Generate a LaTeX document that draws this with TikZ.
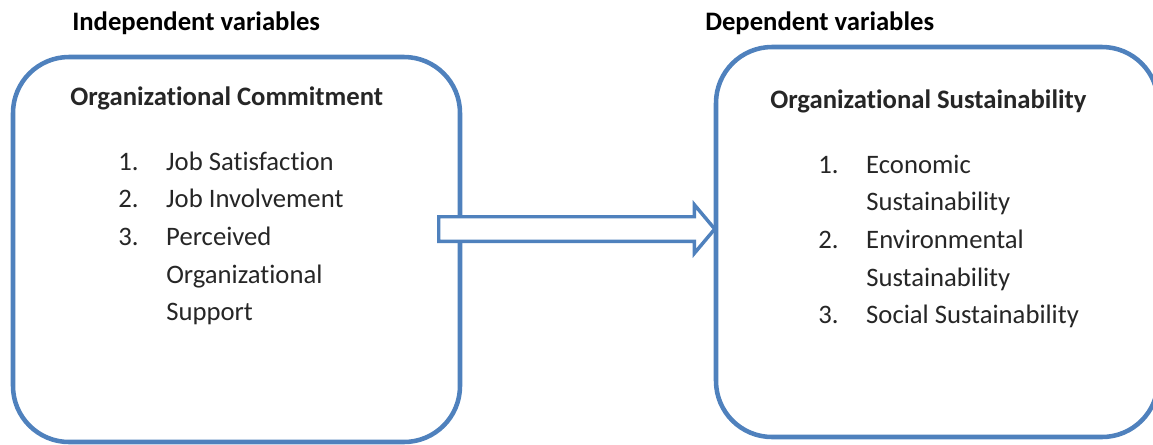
\documentclass[tikz,border=0pt]{standalone}
\usepackage{fontspec}
\setmainfont{Carlito}[Ligatures=NoCommon]
\usetikzlibrary{shapes.arrows, positioning}
\definecolor{boxblue}{HTML}{4F81BD}
\definecolor{txt}{HTML}{262626}

\begin{document}
\begin{tikzpicture}[x=0.75pt, y=-0.75pt,
    varbox/.style={rectangle, draw=boxblue, line width=3.4pt, rounded corners=42pt, fill=white},
    heading/.style={anchor=base west, inner sep=0pt, font=\fontsize{20}{24}\selectfont\bfseries},
    itemlist/.style={anchor=base west, inner sep=0pt, text=txt, font=\fontsize{20}{28.3}\selectfont},
    bigarrow/.style={single arrow, draw=boxblue, fill=white, line width=2.6pt, inner sep=7.9pt,
        single arrow head extend=9pt, single arrow tip angle=100, minimum height=207pt}]
\useasboundingbox (0,0) rectangle (1153,444);
% boxes
\node[varbox, minimum width=335.25pt, minimum height=288.75pt] (commit) at (236.5,249.5) {};
\node[varbox, minimum width=331.5pt, minimum height=292.5pt] (sustain) at (937,242) {};
\node[bigarrow, anchor=tip] (link) at (717,229) {};
% column headings
\node[heading] (indep) at (72,30) {Independent variables};
\node[heading] (dep) at (705,30) {Dependent variables};
% left box
\node[heading, text=txt] (committitle) at (70,105) {Organizational Commitment};
\node[itemlist] (commitlist) at (118,170) {\begin{tabular}[t]{@{}p{36pt}@{}l@{}}
1. & Job Satisfaction\\
2. & Job Involvement\\
3. & Perceived\\
   & Organizational\\
   & Support
\end{tabular}};
% right box
\node[heading, text=txt] (sustaintitle) at (770,108) {Organizational Sustainability};
\node[itemlist] (sustainlist) at (818,173) {\begin{tabular}[t]{@{}p{36pt}@{}l@{}}
1. & Economic\\
   & Sustainability\\
2. & Environmental\\
   & Sustainability\\
3. & Social Sustainability
\end{tabular}};
\end{tikzpicture}
\end{document}
